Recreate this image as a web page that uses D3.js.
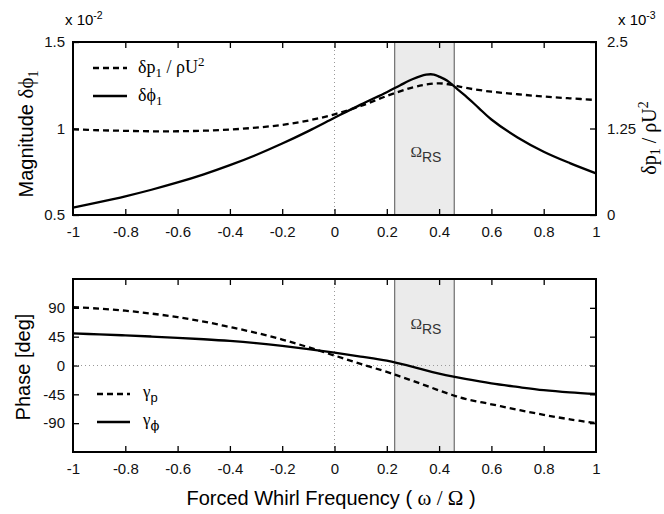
<!DOCTYPE html>
<html>
<head>
<meta charset="utf-8">
<script src="https://cdn.jsdelivr.net/npm/d3@7/dist/d3.min.js"></script>
<style>
  html, body { margin: 0; padding: 0; background: #fff; }
  svg { display: block; }
  .sans { font-family: "Liberation Sans", Arial, Helvetica, sans-serif; }
  .serif { font-family: "Liberation Serif", "Times New Roman", serif; }
</style>
</head>
<body>
<svg id="chart" width="664" height="514"></svg>
<script>
// Forced whirl frequency samples (omega / Omega)
const freqMag = [-1, -0.9, -0.8, -0.7, -0.6, -0.5, -0.4, -0.3, -0.2, -0.1, 0, 0.1, 0.2, 0.25, 0.3, 0.35, 0.38, 0.4, 0.43, 0.46, 0.5, 0.55, 0.6, 0.7, 0.8, 0.9, 1];
// Magnitude of delta-phi_1 (x 1e-2, left axis)
const magPhi = [0.542, 0.574, 0.608, 0.646, 0.688, 0.735, 0.788, 0.847, 0.913, 0.985, 1.062, 1.138, 1.21, 1.249, 1.286, 1.311, 1.312, 1.30, 1.277, 1.24, 1.19, 1.121, 1.052, 0.948, 0.866, 0.80, 0.741];

const freqP = [-1, -0.9, -0.8, -0.7, -0.6, -0.5, -0.4, -0.3, -0.2, -0.1, 0, 0.1, 0.2, 0.3, 0.35, 0.4, 0.45, 0.5, 0.6, 0.7, 0.8, 0.9, 1];
// Magnitude of delta-p_1 / rho U^2 (x 1e-3, right axis)
const magP = [1.238, 1.225, 1.216, 1.21, 1.21, 1.218, 1.235, 1.262, 1.302, 1.365, 1.455, 1.575, 1.72, 1.845, 1.885, 1.903, 1.88, 1.838, 1.782, 1.745, 1.712, 1.686, 1.662];

const freqPhase = [-1, -0.9, -0.8, -0.7, -0.6, -0.5, -0.4, -0.3, -0.2, -0.1, 0, 0.1, 0.2, 0.25, 0.3, 0.35, 0.4, 0.45, 0.5, 0.6, 0.7, 0.8, 0.9, 1];
// Phase angles in degrees
const phaseP = [91, 88.8, 85.5, 81, 75.5, 68.5, 60, 51, 40.5, 28.5, 15.5, 2.5, -10, -17, -24, -31.5, -39, -46, -52, -60.5, -69, -77, -84, -90];
const phasePhi = [50, 48.6, 47, 45.2, 43.2, 41, 38.3, 34.8, 30.5, 25.5, 20, 14, 7.5, 3, -2, -7.5, -12.5, -17, -21, -28, -33.5, -38.5, -42, -44.5];

// Shaded frequency band Omega_RS
const bandRS = [0.23, 0.458];

const xTicks = [-1, -0.8, -0.6, -0.4, -0.2, 0, 0.2, 0.4, 0.6, 0.8, 1];
const magLeftTicks = [0.5, 1, 1.5];
const magRightTicks = [0, 1.25, 2.5];
const phaseTicks = [-90, -45, 0, 45, 90];

const svg = d3.select("#chart");
const L = 73, R = 596;
const top1 = 42, bot1 = 215, top2 = 279, bot2 = 452;

const x = d3.scaleLinear().domain([-1, 1]).range([L, R]);
const yMagL = d3.scaleLinear().domain([0.5, 1.5]).range([bot1, top1]);
const yMagR = d3.scaleLinear().domain([0, 2.5]).range([bot1, top1]);
const yPh = d3.scaleLinear().domain([-135, 135]).range([bot2, top2]);

const fmt = d => (d === 0 ? "0" : String(d));
const TICK_FONT = 15;

function panel(yTop, yBot, yLeft, leftTicks, yRight, rightTicks, showRightLabels) {
  const g = svg.append("g");
  // shaded band
  g.append("rect")
    .attr("x", x(bandRS[0])).attr("y", yTop)
    .attr("width", x(bandRS[1]) - x(bandRS[0])).attr("height", yBot - yTop)
    .attr("fill", "#ebebeb").attr("stroke", "none");
  [bandRS[0], bandRS[1]].forEach(v => {
    g.append("line").attr("x1", x(v)).attr("x2", x(v)).attr("y1", yTop).attr("y2", yBot)
      .attr("stroke", "#777").attr("stroke-width", 1.3);
  });
  // vertical dotted zero line
  g.append("line").attr("x1", x(0)).attr("x2", x(0)).attr("y1", yTop).attr("y2", yBot)
    .attr("stroke", "#999").attr("stroke-width", 1).attr("stroke-dasharray", "1,3");

  // axes with inward ticks
  const axB = d3.axisBottom(x).tickValues(xTicks).tickSize(-6).tickPadding(11).tickFormat(fmt);
  const axT = d3.axisTop(x).tickValues(xTicks).tickSize(-6).tickFormat("");
  const axL = d3.axisLeft(yLeft).tickValues(leftTicks).tickSize(-6).tickPadding(8).tickFormat(fmt);
  const axR = d3.axisRight(yRight).tickValues(rightTicks).tickSize(-6).tickPadding(11)
    .tickFormat(showRightLabels ? fmt : "");
  const gb = g.append("g").attr("transform", `translate(0,${yBot})`).call(axB);
  const gt = g.append("g").attr("transform", `translate(0,${yTop})`).call(axT);
  const gl = g.append("g").attr("transform", `translate(${L},0)`).call(axL);
  const gr = g.append("g").attr("transform", `translate(${R},0)`).call(axR);
  [gb, gt, gl, gr].forEach(a => {
    a.select(".domain").remove();
    a.selectAll(".tick line").attr("stroke", "#000").attr("stroke-width", 1.3);
    a.selectAll("text").attr("class", "sans").attr("font-size", TICK_FONT).attr("fill", "#111");
  });
  gb.selectAll(".tick line").filter(d => d === -1 || d === 1).remove();
  gt.selectAll(".tick line").filter(d => d === -1 || d === 1).remove();
  return g;
}

function frame(yTop, yBot) {
  svg.append("rect").attr("x", L).attr("y", yTop).attr("width", R - L).attr("height", yBot - yTop)
    .attr("fill", "none").attr("stroke", "#000").attr("stroke-width", 2);
}

function bandLabel(yBase) {
  const t = svg.append("text").attr("class", "serif").attr("x", x((bandRS[0] + bandRS[1]) / 2) - 14)
    .attr("y", yBase).attr("font-size", 15.5).attr("fill", "#333");
  t.append("tspan").text("Ω");
  t.append("tspan").attr("class", "sans").attr("dy", 5).attr("font-size", 14).text("RS");
}

const lineStyle = (sel, dashed) => sel.attr("fill", "none").attr("stroke", "#000")
  .attr("stroke-width", 2.3).attr("stroke-dasharray", dashed ? "6,4" : null);
const curve = d3.curveCatmullRom.alpha(0.5);

// ---------- magnitude panel ----------
panel(top1, bot1, yMagL, magLeftTicks, yMagR, magRightTicks, true);
bandLabel(157);

const magPhiPts = freqMag.map((f, i) => [f, magPhi[i]]);
const magPPts = freqP.map((f, i) => [f, magP[i]]);
svg.append("path").datum(magPhiPts)
  .attr("d", d3.line().x(d => x(d[0])).y(d => yMagL(d[1])).curve(curve))
  .call(lineStyle, false);
svg.append("path").datum(magPPts)
  .attr("d", d3.line().x(d => x(d[0])).y(d => yMagR(d[1])).curve(curve))
  .call(lineStyle, true);
frame(top1, bot1);

// ---------- phase panel ----------
panel(top2, bot2, yPh, phaseTicks, yPh, phaseTicks, false);
svg.append("line").attr("x1", L).attr("x2", R).attr("y1", yPh(0)).attr("y2", yPh(0))
  .attr("stroke", "#999").attr("stroke-width", 1).attr("stroke-dasharray", "1,3");
bandLabel(329);

const phPPts = freqPhase.map((f, i) => [f, phaseP[i]]);
const phPhiPts = freqPhase.map((f, i) => [f, phasePhi[i]]);
svg.append("path").datum(phPhiPts)
  .attr("d", d3.line().x(d => x(d[0])).y(d => yPh(d[1])).curve(curve))
  .call(lineStyle, false);
svg.append("path").datum(phPPts)
  .attr("d", d3.line().x(d => x(d[0])).y(d => yPh(d[1])).curve(curve))
  .call(lineStyle, true);
frame(top2, bot2);

// ---------- legends ----------
function legendLine(x1, x2, y, dashed) {
  svg.append("line").attr("x1", x1).attr("x2", x2).attr("y1", y).attr("y2", y).call(lineStyle, dashed);
}
legendLine(93, 127, 68, true);
legendLine(93, 127, 96, false);
let t = svg.append("text").attr("class", "serif").attr("x", 138).attr("y", 73).attr("font-size", 18);
t.append("tspan").text("δp");
t.append("tspan").attr("dy", 4).attr("font-size", 13).text("1");
t.append("tspan").attr("dy", -4).text(" / ρU");
t.append("tspan").attr("dy", -7).attr("font-size", 13).text("2");
t = svg.append("text").attr("class", "serif").attr("x", 138).attr("y", 101).attr("font-size", 18);
t.append("tspan").text("δϕ");
t.append("tspan").attr("dy", 4).attr("font-size", 13).text("1");

legendLine(97, 130, 394, true);
legendLine(97, 130, 422, false);
t = svg.append("text").attr("class", "serif").attr("x", 143).attr("y", 397).attr("font-size", 17);
t.append("tspan").text("γ");
t.append("tspan").attr("class", "sans").attr("dy", 5).attr("font-size", 13).text("p");
t = svg.append("text").attr("class", "serif").attr("x", 143).attr("y", 425).attr("font-size", 17).attr("fill", "#000");
t.append("tspan").text("γ");
t.append("tspan").attr("dy", 5).attr("font-size", 13)
  .style("font-family", "'DejaVu Serif', serif").attr("fill", "#000").text("ϕ");

// ---------- exponent notes ----------
t = svg.append("text").attr("class", "sans").attr("x", 65).attr("y", 25).attr("font-size", 15);
t.append("tspan").text("x 10");
t.append("tspan").attr("dy", -6).attr("font-size", 10.5).text("-2");
t = svg.append("text").attr("class", "sans").attr("x", 618).attr("y", 25).attr("font-size", 15);
t.append("tspan").text("x 10");
t.append("tspan").attr("dy", -6).attr("font-size", 10.5).text("-3");

// ---------- axis titles ----------
t = svg.append("text").attr("text-anchor", "middle")
  .attr("transform", "translate(33,134) rotate(-90)").attr("font-size", 20);
t.append("tspan").attr("class", "sans").text("Magnitude  ");
t.append("tspan").attr("class", "serif").attr("font-size", 21).text("δϕ");
t.append("tspan").attr("class", "serif").attr("dy", 5).attr("font-size", 14).text("1");

t = svg.append("text").attr("class", "serif").attr("text-anchor", "middle")
  .attr("transform", "translate(656,138) rotate(-90)").attr("font-size", 20);
t.append("tspan").text("δp");
t.append("tspan").attr("dy", 4).attr("font-size", 14).text("1");
t.append("tspan").attr("dy", -4).text(" / ρU");
t.append("tspan").attr("dy", -8).attr("font-size", 14).text("2");

svg.append("text").attr("class", "sans").attr("text-anchor", "middle")
  .attr("transform", "translate(30,367) rotate(-90)").attr("font-size", 20).text("Phase [deg]");

t = svg.append("text").attr("text-anchor", "middle").attr("x", 331).attr("y", 505).attr("font-size", 20);
t.append("tspan").attr("class", "sans").text("Forced Whirl Frequency ( ");
t.append("tspan").attr("class", "serif").attr("font-size", 21).text("ω / Ω");
t.append("tspan").attr("class", "sans").text(" )");
</script>
</body>
</html>
